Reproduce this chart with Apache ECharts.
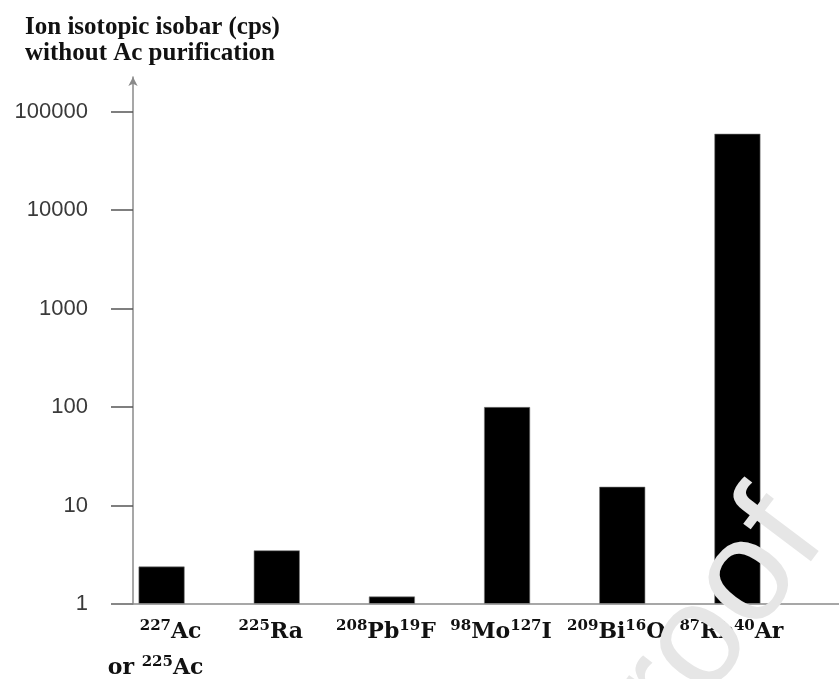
<!DOCTYPE html>
<html>
<head>
<meta charset="utf-8">
<script src="https://cdn.jsdelivr.net/npm/echarts@6/dist/echarts.min.js"></script>
<style>
  html, body { margin: 0; padding: 0; background: #fff; }
  #chart { width: 839px; height: 679px; }
</style>
</head>
<body>
<div id="chart"></div>
<script>
// isotope labels, {s|..} = superscript mass number, {b|..} = element
const categories = [
  '{gap|}{s|227}{b|Ac}\n{b|or }{s|225}{b|Ac}',
  '{s|225}{b|Ra}',
  '{s|208}{b|Pb}{s|19}{b|F}',
  '{s|98}{b|Mo}{s|127}{b|I}',
  '{s|209}{b|Bi}{s|16}{b|O}',
  '{s|87}{b|Rb}{s|40}{b|Ar}'
];
// counts per second
const counts = [2.4, 3.5, 1.19, 100, 15.5, 59600];
const yTicks = [1, 10, 100, 1000, 10000, 100000];
const yTop = 225000; // axis line runs past 100000 up to the arrow

const chart = echarts.init(document.getElementById('chart'));

const labelFont = '"DejaVu Serif", serif';

const option = {
  animation: false,
  title: {
    text: 'Ion isotopic isobar (cps)\nwithout Ac purification',
    left: 20,
    top: 10,
    textStyle: {
      fontFamily: '"Liberation Serif", serif',
      fontWeight: 'bold',
      fontSize: 25,
      lineHeight: 26,
      color: '#111'
    }
  },
  grid: { left: 104, right: 44, top: 77, bottom: 69 },
  xAxis: {
    type: 'category',
    data: categories,
    axisLine: { show: false },
    axisTick: { show: false },
    axisLabel: {
      margin: 10,
      interval: 0,
      color: '#111',
      padding: [0, 12, 0, 0],
      rich: {
        b: {
          fontFamily: labelFont,
          fontWeight: 'bold',
          fontSize: 22,
          lineHeight: 36,
          color: '#111'
        },
        s: {
          fontFamily: labelFont,
          fontWeight: 'bold',
          fontSize: 15,
          verticalAlign: 'top',
          color: '#111',
          padding: [5, 0, 0, 0]
        },
        gap: { width: 30 }
      }
    }
  },
  yAxis: {
    type: 'log',
    min: 1,
    max: yTop,
    offset: -29,
    splitLine: { show: false },
    axisLine: {
      show: true,
      symbol: ['none', 'arrow'],
      symbolSize: [7, 9],
      lineStyle: { color: '#8a8a8a', width: 1.5 }
    },
    axisTick: {
      show: true,
      length: 22,
      customValues: yTicks,
      lineStyle: { color: '#555', width: 1.5 }
    },
    axisLabel: {
      margin: 45,
      customValues: yTicks,
      fontFamily: '"Liberation Sans", sans-serif',
      fontSize: 22,
      color: '#3a3a3a',
      formatter: v => String(Math.round(v))
    }
  },
  series: [{
    type: 'bar',
    data: counts,
    barWidth: 46,
    itemStyle: { color: '#000', borderColor: '#777', borderWidth: 0.6 }
  }]
};

chart.setOption(option);

// horizontal base line: from the tick stub left of the y axis to the right edge
const baseY = chart.convertToPixel({ yAxisIndex: 0 }, 1);
chart.setOption({
  graphic: [
    {
      type: 'line',
      shape: { x1: 111, y1: baseY, x2: 839, y2: baseY },
      style: { stroke: '#8a8a8a', lineWidth: 1.5 },
      z: 5
    },
    {
      // faint "Proof" watermark across the lower right corner
      type: 'text',
      x: 587,
      y: 792,
      rotation: 53 * Math.PI / 180,
      z: 50,
      style: {
        text: 'Proof',
        font: '145px "Liberation Sans", sans-serif',
        fill: '#e6e6e6',
        textAlign: 'left',
        textVerticalAlign: 'middle'
      }
    }
  ]
});
</script>
</body>
</html>
